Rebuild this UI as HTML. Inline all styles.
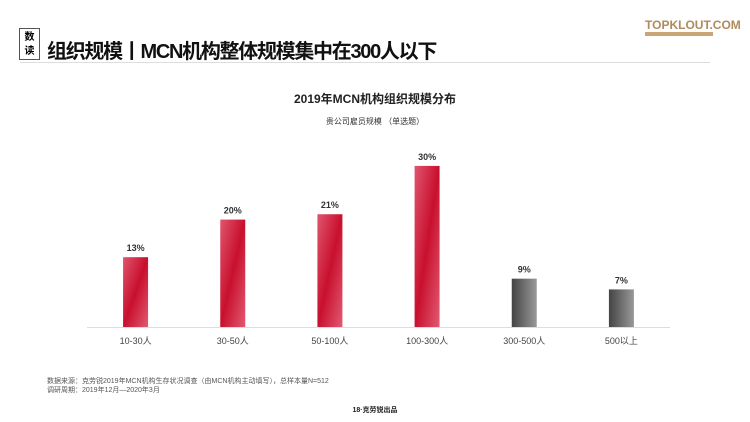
<!DOCTYPE html>
<html><head><meta charset="utf-8">
<style>
body{margin:0;width:750px;height:422px;background:#fff;overflow:hidden;font-family:"Liberation Sans","Noto Sans CJK SC",sans-serif;position:relative}
.a{position:absolute;white-space:nowrap}
</style></head><body>
<div class="a" style="left:19px;top:28px;width:21px;height:32px;border:1px solid #555;font-size:10px;font-weight:bold;line-height:14px;text-align:center;padding-top:2px;box-sizing:border-box">数<br>读</div>
<div class="a" style="left:47px;top:35px;font-size:20px;font-weight:bold;color:#111;letter-spacing:-1.3px">组织规模丨MCN机构整体规模集中在300人以下</div>
<div class="a" style="left:20px;top:62px;width:690px;height:1px;background:#ddd"></div>
<div class="a" style="left:645px;top:18px;font-size:12px;font-weight:bold;color:#b08a5a">TOPKLOUT.COM</div>
<div class="a" style="left:645px;top:32px;width:68px;height:4px;background:#c9a676"></div>
<div class="a" style="left:0;width:750px;text-align:center;top:90px;font-size:12px;font-weight:bold;color:#222">2019年MCN机构组织规模分布</div>
<div class="a" style="left:0;width:750px;text-align:center;top:116px;font-size:8px;color:#333">贵公司雇员规模 （单选题）</div>
<svg class="a" style="left:0;top:0" width="750" height="422">
<defs>
<linearGradient id="r" x1="0" y1="0" x2="1" y2="1"><stop offset="0" stop-color="#e0556e"/><stop offset="0.5" stop-color="#c8102e"/><stop offset="1" stop-color="#e25a72"/></linearGradient>
<linearGradient id="g" x1="0" y1="0" x2="1" y2="0"><stop offset="0" stop-color="#444"/><stop offset="1" stop-color="#999"/></linearGradient>
</defs>
<g id="bars"></g>
</svg>
<div class="a" style="left:47px;top:377px;font-size:7px;color:#555;line-height:9px">数据来源：克劳锐2019年MCN机构生存状况调查（由MCN机构主动填写），总样本量N=512<br>调研周期：2019年12月—2020年3月</div>
<div class="a" style="left:0;width:750px;text-align:center;top:405px;font-size:7px;font-weight:bold;color:#222">18·克劳锐出品</div>
<script>
const categories=["10-30人","30-50人","50-100人","100-300人","300-500人","500以上"];
const values=[13,20,21,30,9,7];
const labels=["13%","20%","21%","30%","9%","7%"];
const colors=["r","r","r","r","g","g"];
const ns="http://www.w3.org/2000/svg";
const g=document.getElementById('bars');
const x0=87,x1=670,base=327,yScale=v=>base-v*5.37;
const step=(x1-x0)/categories.length;
const xc=i=>x0+step*(i+0.5);
function mk(t,a){const e=document.createElementNS(ns,t);for(const k in a)e.setAttribute(k,a[k]);g.appendChild(e);return e;}
const ax=mk('line',{x1:x0,x2:x1,y1:base+0.5,y2:base+0.5,stroke:'#ddd','stroke-width':1});


categories.forEach((c,i)=>{
 const b=mk('rect',{x:xc(i)-12.5,y:yScale(values[i]),width:25,height:base-yScale(values[i]),fill:'url(#'+colors[i]+')'});
 
 
 const v=mk('text',{x:xc(i),y:yScale(values[i])-6,'text-anchor':'middle','font-size':9,'font-weight':'bold',fill:'#333'});
 v.textContent=labels[i];
 
 
 const t=mk('text',{x:xc(i),y:344,'text-anchor':'middle','font-size':9,fill:'#444'});
 t.textContent=c;
 
 
});
</script>
</body></html>
